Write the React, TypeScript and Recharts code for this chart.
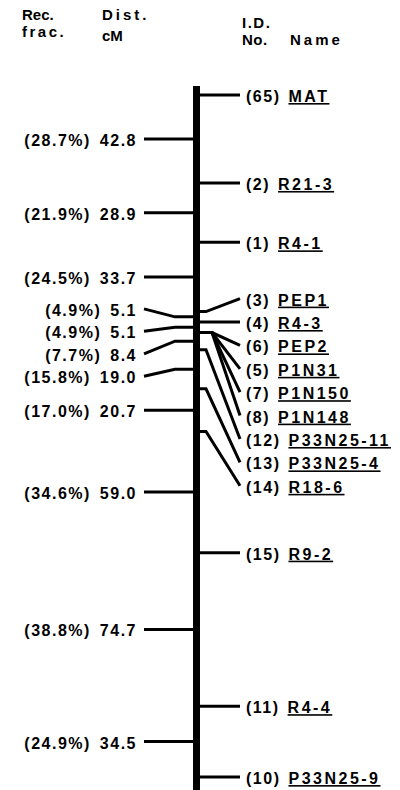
import React from 'react';
import { ComposedChart, Line, Scatter, XAxis, YAxis } from 'recharts';

document.body.style.margin = '0';

// loci top to bottom; markers at the same locus share an index
const markerIds = [65, 2, 1, 3, 4, 6, 5, 7, 8, 12, 13, 14, 15, 11, 10];
const markerNames = [
  'MAT', 'R21-3', 'R4-1', 'PEP1', 'R4-3', 'PEP2', 'P1N31', 'P1N150', 'P1N148',
  'P33N25-11', 'P33N25-4', 'R18-6', 'R9-2', 'R4-4', 'P33N25-9',
];
const markerLocus = [0, 1, 2, 3, 4, 5, 5, 5, 5, 6, 7, 8, 9, 10, 11];

// intervals between consecutive loci
const intervalCM = [42.8, 28.9, 33.7, 5.1, 5.1, 8.4, 19.0, 20.7, 59.0, 74.7, 34.5];
const intervalRec = ['28.7%', '21.9%', '24.5%', '4.9%', '4.9%', '7.7%', '15.8%', '17.0%', '34.6%', '38.8%', '24.9%'];

const W = 400;
const H = 790;
const PX_PER_CM = 2.055;
const TOP_PX = 95; // where cM 0 sits
const Y_MIN = -TOP_PX / PX_PER_CM;
const Y_MAX = (H - TOP_PX) / PX_PER_CM;
const px = (v: number) => v / PX_PER_CM;

const CHROM_X = 196.5;
const LEFT_START = 144;
const LEFT_BEND = 175;
const LEFT_TEXT = 137;
const RIGHT_BEND = 206;
const FAN_BEND = 212;
const RIGHT_END = 240;
const RIGHT_TEXT = 246;
const FONT = '"Liberation Sans", Arial, Helvetica, sans-serif';

const locusPos: number[] = [0];
intervalCM.forEach((d, i) => locusPos.push(locusPos[i] + d));

// push crowded labels apart, then lift each crowded group a little
function spread(anchors: number[], gap: number, lift: number) {
  const out: number[] = [];
  let group: number[] = [];
  const flush = () => {
    const s = group.length > 1 ? lift : 0;
    group.forEach((i) => (out[i] -= s));
    group = [];
  };
  anchors.forEach((a, i) => {
    if (i > 0 && a < out[i - 1] + gap) {
      out[i] = out[i - 1] + gap;
      group.push(i);
    } else {
      flush();
      out[i] = a;
      group = [i];
    }
  });
  flush();
  return out;
}

const rightAnchor = markerLocus.map((l) => locusPos[l]);
const rightLabelY = spread(rightAnchor, px(23.4), px(13));
const leftAnchor = intervalCM.map((_, i) => (locusPos[i] + locusPos[i + 1]) / 2);
const leftLabelY = spread(leftAnchor, px(22.5), px(8));

const sharedCount = (l: number) => markerLocus.filter((m) => m === l).length;

const rightLines = markerLocus.map((l, i) => {
  const bend = sharedCount(l) > 1 ? FAN_BEND : RIGHT_BEND;
  return [
    { x: CHROM_X, y: rightAnchor[i] },
    { x: bend, y: rightAnchor[i] },
    { x: RIGHT_END, y: rightLabelY[i] },
  ];
});

const leftLines = leftAnchor.map((a, i) => [
  { x: LEFT_START, y: leftLabelY[i] },
  { x: LEFT_BEND, y: a },
  { x: CHROM_X, y: a },
]);

const rightLabels = markerIds.map((id, i) => ({ x: RIGHT_TEXT, y: rightLabelY[i], id, name: markerNames[i] }));
const leftLabels = intervalCM.map((d, i) => ({ x: LEFT_TEXT, y: leftLabelY[i], rec: intervalRec[i], dist: d.toFixed(1) }));

const chromosome = [
  { x: CHROM_X, y: px(86 - TOP_PX) },
  { x: CHROM_X, y: Y_MAX },
];

const textStyle = { fontFamily: FONT, fontSize: 16, fontWeight: 700, letterSpacing: 1.5 };

const RightText = (p: any) => (
  <text x={p.cx} y={p.cy} dy={7} fill="#000" style={textStyle}>
    <tspan>({p.payload.id})</tspan>
    <tspan dx={8} textDecoration="underline" style={{ letterSpacing: 2.5 }}>{p.payload.name}</tspan>
  </text>
);

const LeftText = (p: any) => (
  <text x={p.cx} y={p.cy} dy={7} fill="#000" textAnchor="end" style={textStyle}>
    <tspan>({p.payload.rec})</tspan>
    <tspan dx={9}>{p.payload.dist}</tspan>
  </text>
);

const headers = [
  { t: 'Rec.', x: 22, y: 20, ls: 0 },
  { t: 'frac.', x: 22, y: 37, ls: 2.5 },
  { t: 'Dist.', x: 102, y: 20, ls: 3 },
  { t: 'cM', x: 102, y: 41, ls: 0 },
  { t: 'I.D.', x: 242, y: 28, ls: 1.5 },
  { t: 'No.', x: 242, y: 45, ls: 0.5 },
  { t: 'Name', x: 290, y: 45, ls: 3 },
];

export default function App() {
  return (
    <div style={{ position: 'relative', width: W, height: H, background: '#fff' }}>
      <ComposedChart width={W} height={H} margin={{ top: 0, right: 0, bottom: 0, left: 0 }}>
        <XAxis type="number" dataKey="x" domain={[0, W]} allowDataOverflow hide />
        <YAxis type="number" dataKey="y" domain={[Y_MIN, Y_MAX]} allowDataOverflow reversed hide />
        {leftLines.map((pts, i) => (
          <Line key={`l${i}`} data={pts} dataKey="y" type="linear" stroke="#000" strokeWidth={3}
            dot={false} activeDot={false} isAnimationActive={false} />
        ))}
        {rightLines.map((pts, i) => (
          <Line key={`r${i}`} data={pts} dataKey="y" type="linear" stroke="#000" strokeWidth={3}
            dot={false} activeDot={false} isAnimationActive={false} />
        ))}
        <Line data={chromosome} dataKey="y" type="linear" stroke="#000" strokeWidth={7}
          dot={false} activeDot={false} isAnimationActive={false} />
        <Scatter data={leftLabels} shape={LeftText} isAnimationActive={false} />
        <Scatter data={rightLabels} shape={RightText} isAnimationActive={false} />
      </ComposedChart>
      <svg width={W} height={60} style={{ position: 'absolute', left: 0, top: 0, pointerEvents: 'none' }}>
        {headers.map((h) => (
          <text key={h.t} x={h.x} y={h.y} fill="#000" style={{ ...textStyle, fontSize: 15, letterSpacing: h.ls }}>
            {h.t}
          </text>
        ))}
      </svg>
    </div>
  );
}
